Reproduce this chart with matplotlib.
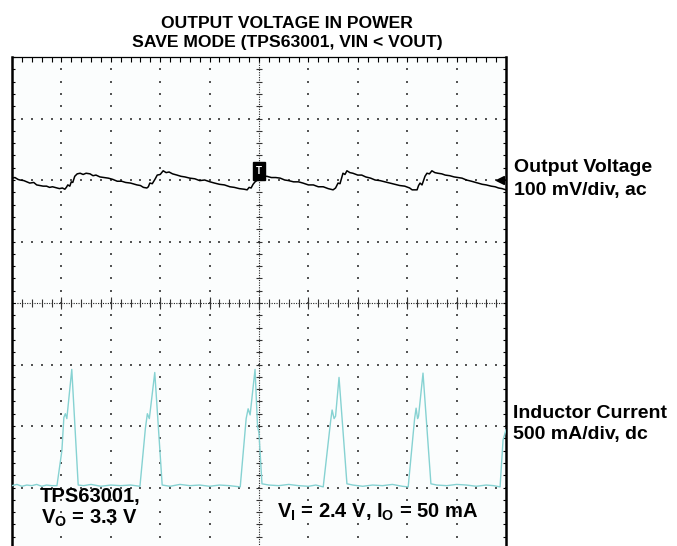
import numpy as np
import matplotlib
matplotlib.use("Agg")
import matplotlib.pyplot as plt
from matplotlib.patches import Rectangle

plt.rcParams['font.family'] = ['Liberation Sans', 'DejaVu Sans']
plt.rcParams['mathtext.fontset'] = 'custom'
plt.rcParams['mathtext.rm'] = 'Liberation Sans:bold'
plt.rcParams['mathtext.bf'] = 'Liberation Sans:bold'

# Scope traces, time in screen divisions
volt_t = [0.00, 0.06, 0.12, 0.16, 0.24, 0.30, 0.36, 0.44, 0.50, 0.56, 0.63, 0.70, 0.76, 0.82,
          0.91, 0.96, 1.02, 1.07, 1.10, 1.13, 1.17, 1.20, 1.23, 1.27, 1.32, 1.38, 1.44, 1.50,
          1.58, 1.64, 1.70, 1.78, 1.86, 1.95, 2.04, 2.13, 2.22, 2.30, 2.40, 2.53, 2.60, 2.66,
          2.73, 2.76, 2.79, 2.84, 2.90, 2.94, 3.00, 3.06, 3.12, 3.18, 3.25, 3.34, 3.42, 3.50,
          3.60, 3.70, 3.80, 3.90, 4.01, 4.10, 4.20, 4.30, 4.41, 4.50, 4.60, 4.70, 4.76, 4.80,
          4.84, 4.88, 4.92, 4.97, 5.02, 5.10, 5.16, 5.25, 5.34, 5.43, 5.52, 5.60, 5.70, 5.80,
          5.89, 6.00, 6.10, 6.20, 6.30, 6.40, 6.50, 6.55, 6.60, 6.64, 6.70, 6.74, 6.78, 6.84,
          6.90, 7.00, 7.08, 7.16, 7.26, 7.35, 7.45, 7.55, 7.65, 7.75, 7.85, 7.95, 8.05, 8.10,
          8.20, 8.23, 8.26, 8.30, 8.36, 8.40, 8.45, 8.50, 8.56, 8.62, 8.70, 8.77, 8.86, 8.95,
          9.03, 9.11, 9.20, 9.30, 9.43, 9.52, 9.60, 9.70, 9.78, 9.85, 9.92, 10.0]
volt_mv = [3, 4, 1, 0, -1, -3, -5, -4, -8, -9, -10, -10, -12, -11,
           -13, -14, -13, -15, -12, -8, -10, -3, -4, 6, 10, 11, 9, 11,
           10, 7, 8, 5, 4, 3, 1, -2, -2, -4, -5, -8, -9, -12,
           -13, -11, -5, -6, 2, 8, 9, 15, 12, 13, 10, 8, 6, 5,
           3, 2, -1, 0, -3, -5, -7, -8, -11, -12, -14, -15, -16, -12,
           -13, -7, -3, 0, 3, 6, 6, 4, 4, 3, 0, -1, -3, -3,
           -5, -8, -8, -11, -11, -14, -16, -13, -5, -6, 11, 9, 15, 12,
           11, 8, 8, 5, 3, 0, -1, -3, -5, -7, -9, -10, -13, -16,
           -16, -9, -5, -8, 6, 11, 10, 15, 12, 11, 10, 8, 7, 5,
           4, 3, 0, -2, -5, -7, -8, -10, -11, -13, -14, -16]

curr_t = [0.00, 0.10, 0.20, 0.30, 0.40, 0.50, 0.60, 0.70, 0.80, 0.91,
          1.01, 1.05, 1.08, 1.11, 1.21, 1.34,
          1.45, 1.60, 1.80, 2.00, 2.20, 2.40, 2.59,
          2.70, 2.74, 2.78, 2.89, 3.04,
          3.20, 3.40, 3.60, 3.80, 4.00, 4.20, 4.40, 4.62,
          4.74, 4.78, 4.82, 4.92, 4.97, 5.00, 5.06,
          5.20, 5.40, 5.60, 5.80, 6.00, 6.15, 6.30,
          6.45, 6.48, 6.52, 6.55, 6.62, 6.78,
          6.90, 7.10, 7.30, 7.50, 7.70, 7.90, 8.02,
          8.15, 8.18, 8.21, 8.23, 8.32, 8.48,
          8.60, 8.80, 9.00, 9.20, 9.40, 9.60, 9.75, 9.88,
          9.94, 10.0]
curr_ma = [15, 25, 10, 20, 15, 25, 10, 20, 15, 15,
           300, 570, 600, 560, 960, 20,
           15, 25, 10, 20, 15, 20, 10,
           480, 600, 560, 935, 20,
           10, 25, 15, 20, 10, 20, 15, 5,
           560, 640, 590, 960, 500, 440, 30,
           20, 15, 25, 15, 10, 20, 5,
           540, 630, 560, 580, 895, 30,
           20, 10, 20, 15, 25, 10, 5,
           560, 645, 560, 580, 930, 30,
           20, 15, 25, 20, 10, 20, 15, 5,
           385, 470]

VOLT_SCALE = 100.0   # mV/div
CURR_SCALE = 500.0   # mA/div
VOLT_REF = 2.0       # div
CURR_REF = -3.0      # div

W, H = 677, 546
fig = plt.figure(figsize=(W / 100, H / 100), dpi=100)
ax = fig.add_axes([12 / W, (H - 549) / H, 494 / W, 492 / H])
ax.set_xlim(0, 10)
ax.set_ylim(-4, 4)
ax.set_facecolor('#fbfdfd')

# graticule dots
dot_c = '#555555'
minor_x = np.arange(0, 10.01, 0.2)
minor_y = np.arange(-4, 4.01, 0.2)
for gx in [1, 2, 3, 4, 6, 7, 8, 9]:
    ax.scatter(np.full_like(minor_y, gx), minor_y, s=1.2, c=dot_c, marker='s', lw=0, zorder=1)
for gy in [-3, -2, -1, 1, 2, 3]:
    ax.scatter(minor_x, np.full_like(minor_x, gy), s=1.2, c=dot_c, marker='s', lw=0, zorder=1)

# center cross with tick marks
ax.axhline(0, color='#222222', lw=0.8, ls=(0, (1, 1.2)), zorder=1)
ax.axvline(5, color='#222222', lw=0.8, ls=(0, (1, 1.2)), zorder=1)
ax.plot(minor_x, np.zeros_like(minor_x), ls='none', marker='|', ms=5.5, mew=0.8, color='#333333', zorder=1)
ax.plot(np.arange(0, 11), np.zeros(11), ls='none', marker='|', ms=9, mew=0.8, color='#333333', zorder=1)
ax.plot(np.full_like(minor_y, 5), minor_y, ls='none', marker='_', ms=5, mew=0.8, color='#333333', zorder=1)

# edge ticks
ax.set_xticks(minor_x)
ax.set_yticks(minor_y)
ax.tick_params(axis='x', which='both', direction='in', top=True, bottom=False,
               length=3.5, width=0.8, labelbottom=False, labeltop=False)
ax.tick_params(axis='y', which='both', direction='in', left=True, right=True,
               length=2.5, width=0.8, labelleft=False, labelright=False)
for side in ['left', 'right']:
    ax.spines[side].set_linewidth(1.8)
ax.spines['top'].set_linewidth(0.9)
ax.spines['bottom'].set_visible(False)

# traces
ax.plot(curr_t, CURR_REF + np.array(curr_ma) / CURR_SCALE, color='#86d2d2', lw=1.0, zorder=3)
ax.plot(volt_t, VOLT_REF + np.array(volt_mv) / VOLT_SCALE, color='black', lw=1.1, zorder=4)

# trigger marker and channel reference marker
ax.add_patch(Rectangle((4.87, 2.0), 0.26, 0.29, color='black', zorder=5))
ax.text(5.0, 2.145, 'T', color='white', fontsize=7, fontweight='bold', ha='center', va='center', zorder=6)
ax.plot([9.88], [2.0], marker='<', ms=6, color='black', zorder=6, clip_on=False)

def fx(px):
    return px / W

def fy(py):
    return (H - py) / H

tfam = ['Liberation Sans', 'DejaVu Sans']
fig.text(fx(287), fy(28), 'OUTPUT VOLTAGE IN POWER', family=tfam, fontsize=12.6,
         fontweight='bold', ha='center', va='baseline')
fig.text(fx(287), fy(47), 'SAVE MODE (TPS63001, VIN < VOUT)', family=tfam, fontsize=12.6,
         fontweight='bold', ha='center', va='baseline')

lab = dict(fontsize=14, fontweight='bold', ha='left', va='baseline')
fig.text(fx(514), fy(172), 'Output Voltage', **lab)
fig.text(fx(514), fy(195), '100 mV/div, ac', **lab)
fig.text(fx(513), fy(418), 'Inductor Current', **lab)
fig.text(fx(513), fy(439), '500 mA/div, dc', **lab)

bl = dict(fontsize=14.5, fontweight='bold', ha='left', va='baseline')
fig.text(fx(40), fy(502), 'TPS63001,', **bl)
fig.text(fx(41), fy(524), r'V$_\mathrm{O}$ = 3.3 V', **bl)
fig.text(fx(277), fy(518), r'V$_\mathrm{I}$ = 2.4 V, I$_\mathrm{O}$ = 50 mA', **bl)

fig.savefig('out.png', dpi=100)
